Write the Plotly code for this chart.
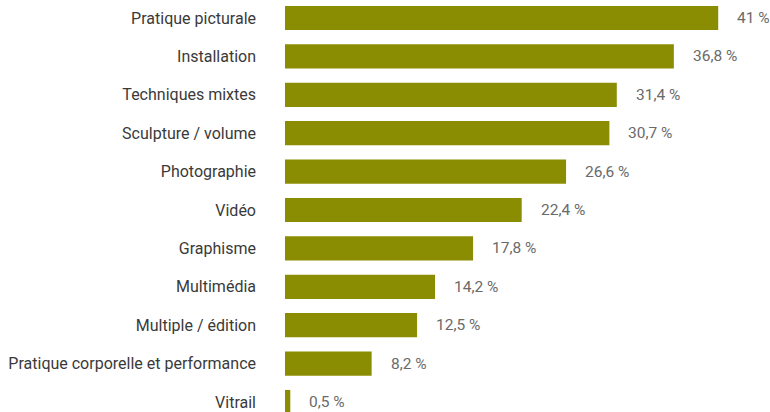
import plotly.graph_objects as go

categories = ["Pratique picturale", "Installation", "Techniques mixtes", "Sculpture / volume",
              "Photographie", "Vidéo", "Graphisme", "Multimédia", "Multiple / édition",
              "Pratique corporelle et performance", "Vitrail"]
values = [41, 36.8, 31.4, 30.7, 26.6, 22.4, 17.8, 14.2, 12.5, 8.2, 0.5]

def fmt(v):
    s = f"{v:g}".replace(".", ",")
    return s + " %"

fig = go.Figure()
fig.add_trace(go.Bar(
    x=values, y=categories, orientation="h",
    marker=dict(color="#8a8c02", line=dict(width=0)),
    width=0.63,
))

for c, v in zip(categories, values):
    fig.add_annotation(x=v, y=c, text=fmt(v), showarrow=False, xanchor="left",
                       xshift=17, font=dict(family="Roboto", size=15.5, color="#6a6a6a"))

fig.update_layout(
    width=770, height=412,
    margin=dict(l=285, r=0, t=0, b=0),
    paper_bgcolor="white", plot_bgcolor="white",
    showlegend=False,
    font=dict(family="Roboto", size=16, color="#3a3a3a"),
    xaxis=dict(range=[0, 45.9], visible=False),
    yaxis=dict(range=[10.26, -0.469], showgrid=False, zeroline=False, showline=False,
               ticks="", ticklabelstandoff=28, tickfont=dict(size=16, color="#3a3a3a")),
)

fig.write_html(
    "out.html",
    config=dict(displayModeBar=False, staticPlot=True),
    post_script="document.body.style.margin='0';document.body.style.overflow='hidden';",
)
